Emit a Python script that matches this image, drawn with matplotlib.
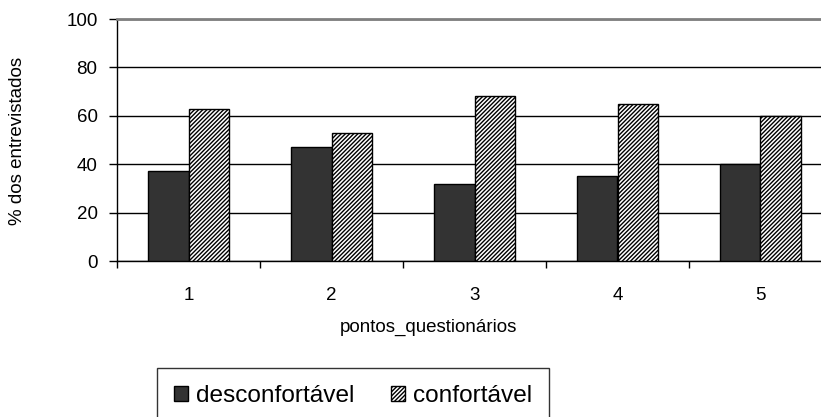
import matplotlib
matplotlib.use("Agg")
import matplotlib.pyplot as plt
import numpy as np

plt.rcParams['font.family'] = ['Liberation Sans', 'DejaVu Sans']
plt.rcParams['hatch.linewidth'] = 1.0
plt.rcParams['hatch.color'] = '#4a4a4a'

categories = ['1', '2', '3', '4', '5']
desconfortavel = [37, 47, 32, 35, 40]
confortavel = [63, 53, 68, 65, 60]
y_ticks = [0, 20, 40, 60, 80, 100]

W, H = 821, 417
fig = plt.figure(figsize=(W / 100, H / 100), dpi=100)
ax = fig.add_axes([117 / W, 1 - 261 / H, (832 - 117) / W, (261 - 19) / H])

x = np.arange(len(categories))
bw = 0.283
b1 = ax.bar(x - bw / 2, desconfortavel, bw, color='#333333', edgecolor='black',
            linewidth=1.0, zorder=3, label='desconfortável')
b2 = ax.bar(x + bw / 2, confortavel, bw, color='white', edgecolor='black',
            hatch='////////', linewidth=1.0, zorder=3, label='confortável')

ax.set_xlim(-0.5, len(categories) - 0.5)
ax.set_ylim(0, 100)
ax.set_yticks(y_ticks)
ax.yaxis.grid(True, color='black', linewidth=1.0)
ax.set_axisbelow(True)

# group separators as major ticks, labels centred on the groups
ax.set_xticks(np.arange(len(categories) + 1) - 0.5)
ax.set_xticklabels([])
ax.set_xticks(x, minor=True)
ax.set_xticklabels(categories, minor=True)
ax.tick_params(axis='x', which='major', length=5, width=1, color='black')
ax.tick_params(axis='x', which='minor', length=0, pad=19, labelsize=13.5)
ax.tick_params(axis='y', length=6, width=1, pad=8, labelsize=13.5)

for s in ['left', 'bottom']:
    ax.spines[s].set_color('black')
    ax.spines[s].set_linewidth(1.0)
ax.spines['top'].set_color('#808080')
ax.spines['top'].set_linewidth(2.0)
ax.spines['right'].set_visible(False)

fig.text(18 / W, 1 - 141 / H, '% dos entrevistados', rotation=90,
         ha='center', va='center', fontsize=13.5)
fig.text(428 / W, 1 - 327 / H, 'pontos_questionários',
         ha='center', va='center', fontsize=13.5)

leg = fig.legend(handles=[b1, b2], loc='upper left',
                 bbox_to_anchor=(157 / W, 1 - 368 / H), borderaxespad=0,
                 ncol=2, fontsize=17.6, frameon=True, fancybox=False,
                 edgecolor='black', handlelength=0.55, handleheight=0.55,
                 handletextpad=0.35, columnspacing=1.5, borderpad=0.7)
leg.get_frame().set_linewidth(1.0)

fig.savefig('out.png', dpi=100)
